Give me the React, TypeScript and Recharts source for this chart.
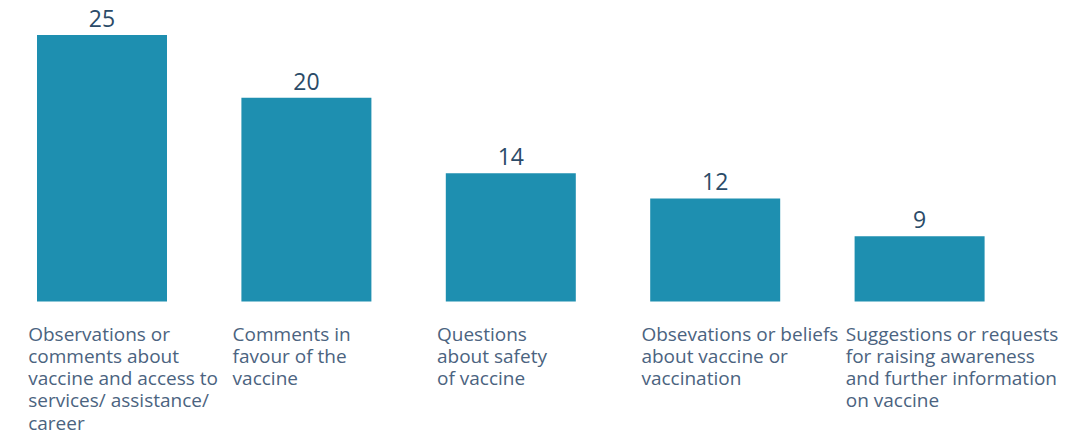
import { BarChart, Bar, XAxis, YAxis, LabelList } from 'recharts';

const categories = [
  'Observations or\ncomments about\nvaccine and access to\nservices/ assistance/\ncareer',
  'Comments in\nfavour of the\nvaccine',
  'Questions\nabout safety\nof vaccine',
  'Obsevations or beliefs\nabout vaccine or\nvaccination',
  'Suggestions or requests\nfor raising awareness\nand further information\non vaccine',
];
const counts = [25, 20, 14, 12, 9];

const data = categories.map((name, i) => ({ name, count: counts[i] }));

const FONT = '"Open Sans", Lato, sans-serif';

const CategoryTick = (props: any) => {
  const { x, y, payload } = props;
  const lines: string[] = String(payload.value).split('\n');
  return (
    <text x={x - 74} y={y + 31} fill="#4b6380" fontSize={19} fontFamily={FONT} textAnchor="start">
      {lines.map((line, i) => (
        <tspan key={i} x={x - 74} dy={i === 0 ? 0 : 22.3}>
          {line}
        </tspan>
      ))}
    </text>
  );
};

export default function App() {
  return (
    <div style={{ position: 'absolute', left: 0, top: 0, background: '#fff' }}>
      <BarChart
        width={1088}
        height={437}
        data={data}
        margin={{ top: 35, right: 66, left: 0, bottom: 0 }}
      >
        <XAxis
          dataKey="name"
          axisLine={false}
          tickLine={false}
          interval={0}
          tick={<CategoryTick />}
          height={135.5}
        />
        <YAxis hide domain={[3.8, 25]} />
        <Bar dataKey="count" fill="#1e8fb0" barSize={130} isAnimationActive={false}>
          <LabelList
            dataKey="count"
            position="top"
            offset={8}
            fill="#2b4b68"
            fontSize={23}
            fontFamily={FONT}
          />
        </Bar>
      </BarChart>
    </div>
  );
}
